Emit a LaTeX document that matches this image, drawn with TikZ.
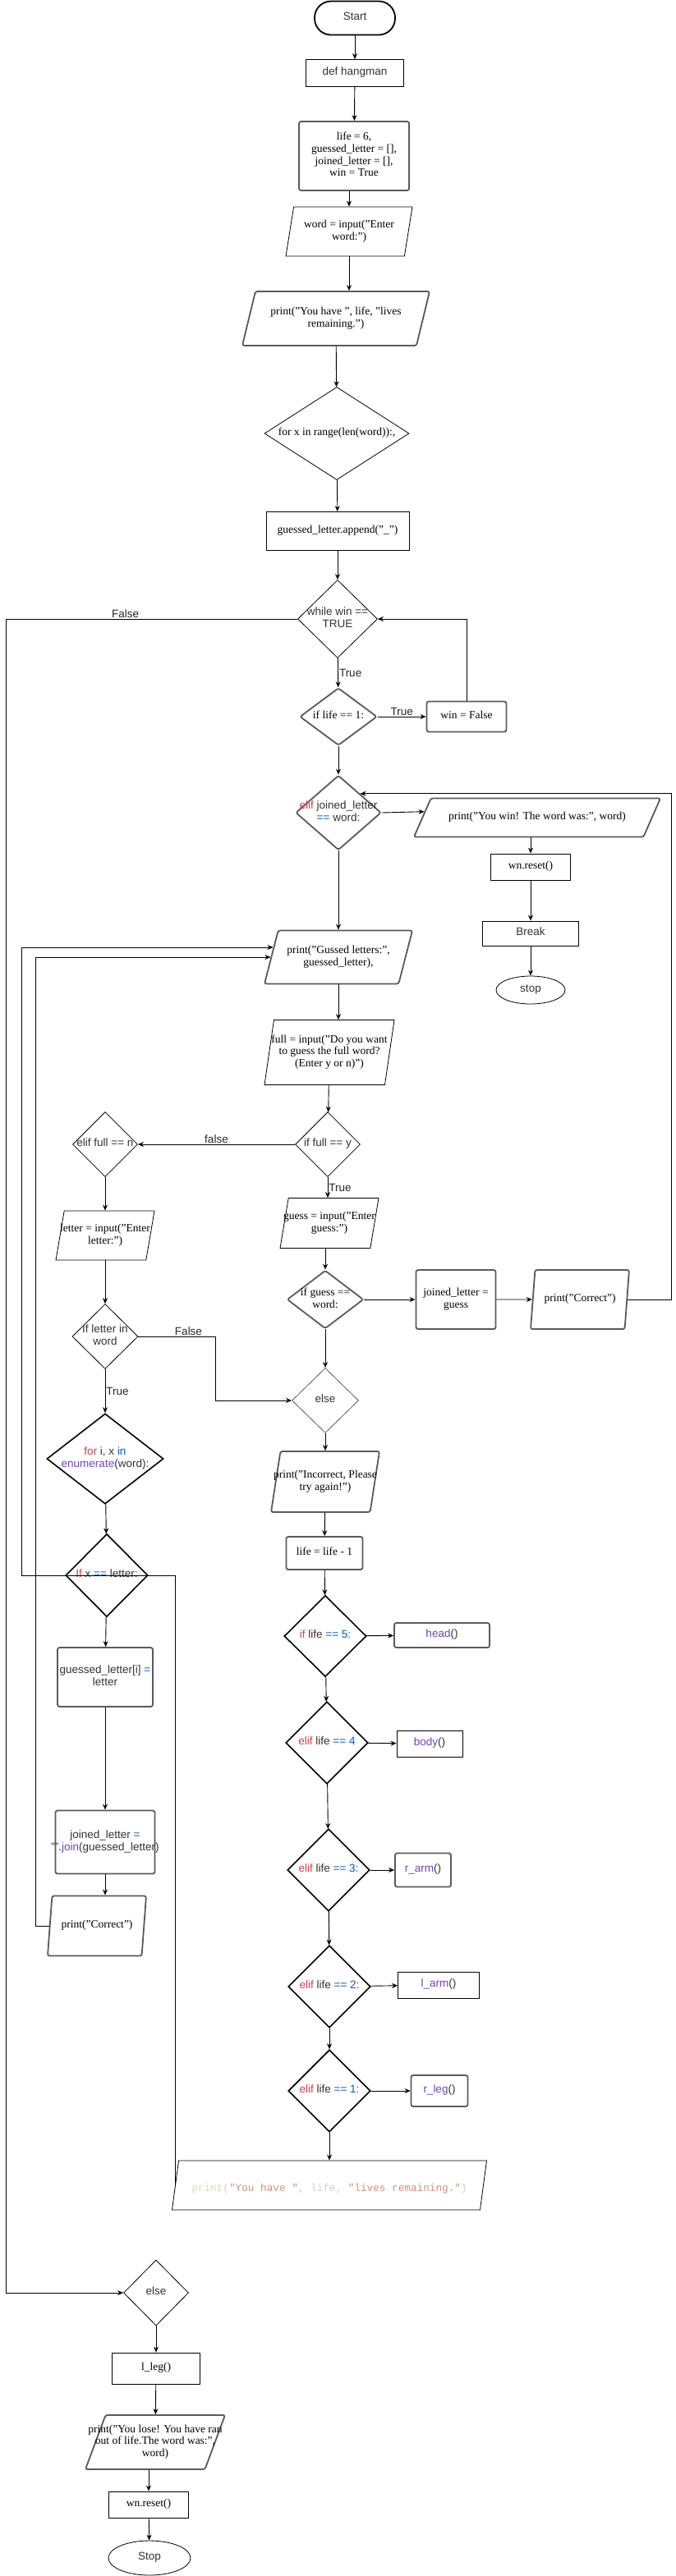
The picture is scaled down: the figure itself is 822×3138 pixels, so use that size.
\documentclass[tikz,border=0pt]{standalone}
\usepackage{fontspec}
\setmainfont{Liberation Serif}
\setsansfont{Liberation Sans}
\setmonofont{Liberation Mono}
\usetikzlibrary{arrows.meta,calc,shapes.geometric}

\definecolor{bordergray}{HTML}{5A5A5A}
\definecolor{codegray}{HTML}{333333}
\definecolor{kwred}{HTML}{D73A49}
\definecolor{opblue}{HTML}{005CC5}
\definecolor{fnpurple}{HTML}{6F42C1}
\definecolor{vsyellow}{HTML}{DCDCAA}
\definecolor{vsorange}{HTML}{CE9178}
\definecolor{vsgray}{HTML}{CFCFCF}

\newcommand{\stacktext}[1]{\makebox[0pt]{\begin{tabular}{@{}c@{}}#1\end{tabular}}}
\newcommand{\kwd}[1]{\textcolor{kwred}{#1}}
\newcommand{\opr}[1]{\textcolor{opblue}{#1}}
\newcommand{\fnc}[1]{\textcolor{fnpurple}{#1}}

\begin{document}
\begin{tikzpicture}[x=1pt,y=-1pt,>={Stealth[length=7pt,width=6pt]},
  every node/.style={inner sep=1pt},
  rmtxt/.style={font=\rmfamily\fontsize{13.5}{14.7}\selectfont},
  sftxt/.style={font=\sffamily\fontsize{13.5}{14.7}\selectfont,text=codegray},
  lbl/.style={font=\sffamily\fontsize{13.5}{14.7}\selectfont,text=black!85},
  sz/.style 2 args={minimum width=#1,minimum height=#2},
  thin/.style={draw=black,line width=0.8pt},
  gbd/.style={draw=bordergray,line width=1.8pt,rounded corners=2.5pt},
  bbd/.style={draw=black,line width=1.6pt},
  proc/.style={rectangle},
  dec/.style={diamond},
  term/.style={ellipse},
  io/.style={trapezium,trapezium stretches body,trapezium left angle=#1,
    trapezium right angle={\the\numexpr180-#1\relax}},
  arr/.style={->,line width=0.9pt}]
\fill[white] (0,0) rectangle (822,3138);
\useasboundingbox (0,0) rectangle (822,3138);

\coordinate (railC) at (7,0);
\coordinate (railA) at (26,0);
\coordinate (railB) at (43,0);
\coordinate (railR) at (817,0);

% main column
\node[proc,bbd,line width=1.8pt,rounded corners=20pt,sftxt,sz={98}{41}] (start) at (432,22) {\stacktext{Start}};
\node[proc,thin,sftxt,sz={119}{33}] (def) at (432,89) {\stacktext{def hangman}};
\node[proc,gbd,rmtxt,sz={134}{84}] (init) at (431,190) {\stacktext{life = 6,\\guessed\_letter = [],\\joined\_letter = [],\\win = True}};
\node[io=73,thin,rmtxt,sz={154}{60}] (word) at (425,282) {\stacktext{word = input("Enter\\word:")}};
\node[io=63,gbd,rmtxt,sz={228}{66}] (lives) at (409,388) {\stacktext{print("You have ", life, "lives\\remaining.")}};
\node[dec,thin,rmtxt,sz={176}{113}] (forx) at (410,528) {\stacktext{for x in range(len(word)):,}};
\node[proc,thin,rmtxt,sz={174}{47}] (append) at (411,647) {\stacktext{guessed\_letter.append("\_")}};
\node[dec,thin,sftxt,sz={97}{95}] (while) at (411,754) {\stacktext{while win ==\\TRUE}};
\node[dec,gbd,rmtxt,sz={94}{70}] (lifeone) at (412,873) {\stacktext{if life == 1:}};
\node[proc,gbd,rmtxt,sz={97}{37}] (winfalse) at (568,873) {\stacktext{win = False}};
\node[dec,gbd,sftxt,sz={104}{91}] (joined) at (412,990) {\stacktext{\kwd{elif} joined\_letter\\\opr{==} word:}};
\node[io=39,gbd,rmtxt,sz={300}{47}] (youwin) at (654,996) {\stacktext{print("You win! The word was:", word)}};
\node[proc,thin,rmtxt,sz={97}{32}] (resetA) at (646,1056) {\stacktext{wn.reset()}};
\node[proc,thin,sftxt,sz={117}{30}] (brk) at (646,1137) {\stacktext{Break}};
\node[term,thin,sftxt,sz={84}{34}] (stopA) at (646,1206) {\stacktext{stop}};
\node[io=62,gbd,rmtxt,sz={180}{65}] (gussed) at (412,1166) {\stacktext{print("Gussed letters:",\\guessed\_letter),}};
\node[io=76,thin,rmtxt,sz={158}{79}] (full) at (401,1282) {\stacktext{full = input("Do you want\\to guess the full word?\\(Enter y or n)")}};
\node[dec,thin,sftxt,sz={79}{79}] (fully) at (399,1394) {\stacktext{if full == y}};
\node[dec,thin,sftxt,sz={79}{79}] (fulln) at (128,1394) {\stacktext{elif full == n}};
\node[io=72,thin,rmtxt,sz={120}{61}] (guess) at (401,1490) {\stacktext{guess = input("Enter\\guess:")}};
\node[io=72,thin,rmtxt,sz={120}{60}] (letter) at (128,1505) {\stacktext{letter = input("Enter\\letter:")}};
\node[dec,gbd,rmtxt,sz={93}{71}] (guessword) at (396,1583) {\stacktext{if guess ==\\word:}};
\node[proc,gbd,rmtxt,sz={97}{72}] (joinguess) at (555,1583) {\stacktext{joined\_letter =\\guess}};
\node[io=72,gbd,rmtxt,sz={120}{72}] (correctR) at (706,1583) {\stacktext{print("Correct")}};
\node[dec,draw=bordergray,line width=0.8pt,sftxt,sz={81}{79}] (elseA) at (396,1706) {\stacktext{else}};
\node[dec,thin,sftxt,sz={80}{79}] (inword) at (128,1628) {\stacktext{If letter in\\word}};
\node[dec,bbd,sftxt,sz={142}{110}] (fori) at (128,1777) {\stacktext{\kwd{for} i, x \opr{in}\\\fnc{enumerate}(word):}};
\node[io=70,gbd,rmtxt,sz={132}{74}] (incorrect) at (396,1805) {\stacktext{print("Incorrect, Please\\try again!")}};
\node[dec,bbd,sftxt,sz={100}{101}] (ifx) at (130,1919) {\stacktext{\kwd{If} x \opr{==} letter:}};
\node[proc,gbd,sftxt,sz={116}{72}] (setletter) at (128,2043) {\stacktext{guessed\_letter[i] \opr{=}\\letter}};
\node[proc,gbd,sftxt,sz={121}{77}] (joinall) at (128,2244) {\stacktext{joined\_letter \opr{=}\\"".\fnc{join}(guessed\_letter)}};
\node[io=72,gbd,rmtxt,sz={120}{73}] (correctL) at (118,2346) {\stacktext{print("Correct")}};
\node[proc,gbd,rmtxt,sz={93}{40}] (minus) at (395,1892) {\stacktext{life = life - 1}};

% life checks
\node[dec,bbd,sftxt,sz={100}{99}] (five) at (396,1993) {\stacktext{\kwd{if} life \opr{== 5:}}};
\node[proc,gbd,sftxt,sz={116}{30}] (head) at (538,1992) {\stacktext{\fnc{head}()}};
\node[dec,bbd,sftxt,sz={100}{100}] (four) at (398,2123) {\stacktext{\kwd{elif} life \opr{== 4}}};
\node[proc,thin,sftxt,sz={80}{32}] (body) at (523,2124) {\stacktext{\fnc{body}()}};
\node[dec,bbd,sftxt,sz={100}{100}] (three) at (400,2278) {\stacktext{\kwd{elif} life \opr{== 3:}}};
\node[proc,gbd,sftxt,sz={68}{41}] (rarm) at (515,2278) {\stacktext{\fnc{r\_arm}()}};
\node[dec,bbd,sftxt,sz={100}{100}] (two) at (401,2420) {\stacktext{\kwd{elif} life \opr{== 2:}}};
\node[proc,thin,sftxt,sz={99}{32}] (larm) at (534,2418) {\stacktext{\fnc{l\_arm}()}};
\node[dec,bbd,sftxt,sz={100}{100}] (one) at (401,2547) {\stacktext{\kwd{elif} life \opr{== 1:}}};
\node[proc,gbd,sftxt,sz={69}{38}] (rleg) at (535,2547) {\stacktext{\fnc{r\_leg}()}};
\node[io=70,thin,sz={383}{60}] (final) at (401,2662) {\stacktext{\raisebox{-9pt}{\ttfamily\fontsize{12.7}{15}\selectfont
  \textcolor{vsyellow}{print}\textcolor{vsgray}{(}\textcolor{vsorange}{"You have "}\textcolor{vsgray}{, life, }\textcolor{vsorange}{"lives remaining."}\textcolor{vsgray}{)}}}};

% lose branch
\node[dec,thin,sftxt,sz={79}{80}] (elseB) at (190,2793) {\stacktext{else}};
\node[proc,thin,rmtxt,sz={107}{38}] (lleg) at (190,2885) {\stacktext{l\_leg()}};
\node[io=62,gbd,rmtxt,sz={170}{66}] (lose) at (189,2975) {\stacktext{print("You lose! You have ran\\out of life.The word was:",\\word)}};
\node[proc,thin,rmtxt,sz={97}{32}] (resetB) at (181,3051) {\stacktext{wn.reset()}};
\node[term,thin,sftxt,sz={100}{42}] (stopB) at (182,3116) {\stacktext{Stop}};

\coordinate (joinin) at ($(joined.north)!.5!(joined.east)$);
\coordinate (gussedin) at ($(gussed.top left corner)!.32!(gussed.bottom left corner)$);
\coordinate (youwinin) at ($(youwin.top left corner)!.35!(youwin.bottom left corner)$);

\draw[arr] (start) -- (def);
\draw[arr] (def) -- (init);
\draw[arr] (word.north |- init.south) -- (word);
\draw[arr] (word.south) -- (word.south |- lives.north);
\draw[arr] (lives) -- (forx);
\draw[arr] (forx) -- (append);
\draw[arr] (append) -- (while);
\draw[arr] (while) -- node[lbl,right] {True} (lifeone);
\draw[arr] (lifeone) -- node[lbl,above] {True} (winfalse);
\draw[arr] (winfalse.north) |- (while.east);
\draw[arr] (lifeone) -- (joined);
\draw[arr] (joined.east) -- (youwinin);
\draw[arr] (resetA.north |- youwin.south) -- (resetA);
\draw[arr] (resetA) -- (brk);
\draw[arr] (brk) -- (stopA);
\draw[arr] (joined) -- (gussed);
\draw[arr] (gussed.south) -- (gussed.south |- full.north);
\draw[arr] (full) -- (fully);
\draw[arr] (fully) -- node[lbl,above] {false} (fulln);
\draw[arr] (fully.south) -- node[lbl,right] {True} (fully.south |- guess.north);
\draw[arr] (fulln) -- (letter);
\draw[arr] (letter) -- (inword);
\draw[arr] (guessword.north |- guess.south) -- (guessword);
\draw[arr] (guessword) -- (joinguess);
\draw[arr] (joinguess) -- (correctR);
\draw[arr] (correctR.east) -| (railR |- joinin) -- (joinin);
\draw[arr] (guessword) -- (elseA);
\draw[arr] (inword.east) -- node[lbl,above,pos=.65] {False} ++(94,0) |- (elseA.west);
\draw[arr] (inword) -- node[lbl,right] {True} (fori);
\draw[arr] (elseA) -- (incorrect);
\draw[arr] (incorrect) -- (minus);
\draw[arr] (minus) -- (five);
\draw[arr] (five) -- (head);
\draw[arr] (five) -- (four);
\draw[arr] (four) -- (body);
\draw[arr] (four) -- (three);
\draw[arr] (three) -- (rarm);
\draw[arr] (three) -- (two);
\draw[arr] (two) -- (larm);
\draw[arr] (two) -- (one);
\draw[arr] (one) -- (rleg);
\draw[arr] (one) -- (final);
\draw[arr] (fori) -- (ifx);
\draw[arr] (ifx) -- (setletter);
\draw[arr] (setletter) -- (joinall);
\draw[arr] (joinall.south) -- (joinall.south |- correctL.north);
\draw[arr] (correctL.west) -| (railB |- gussed.west) -- (gussed.west);
\draw[arr] (final.west) |- (railA |- ifx) |- (gussedin);
\draw[arr] (while.west) -- node[lbl,above,pos=.59] {False} (railC |- while) |- (elseB.west);
\draw[arr] (elseB) -- (lleg);
\draw[arr] (lleg) -- (lose);
\draw[arr] (resetB.north |- lose.south) -- (resetB);
\draw[arr] (resetB) -- (stopB);
\end{tikzpicture}
\end{document}
